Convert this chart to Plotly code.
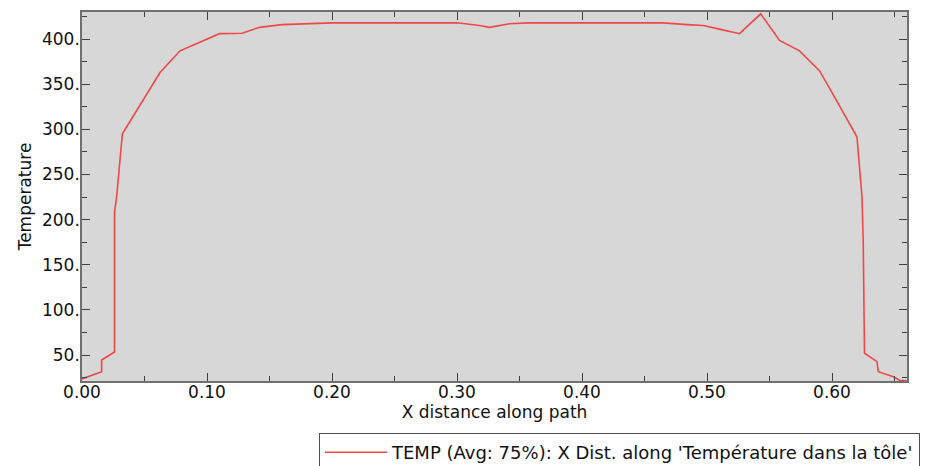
import plotly.graph_objects as go

# Data
x_dist = [0.000, 0.0157, 0.0157, 0.026, 0.026, 0.026, 0.0277, 0.0323, 0.0624, 0.0784,
          0.110, 0.128, 0.142, 0.160, 0.200, 0.250, 0.300, 0.318, 0.326, 0.342, 0.358,
          0.400, 0.465, 0.484, 0.497, 0.510, 0.526, 0.543, 0.558, 0.574, 0.590, 0.606,
          0.620, 0.624, 0.625, 0.626, 0.636, 0.637, 0.649, 0.654, 0.660]
temp = [23.5, 31.5, 44.5, 53.3, 63.0, 208.5, 225.0, 295.0, 363.0, 387.0,
        406.0, 406.5, 413.0, 416.0, 418.0, 418.0, 418.0, 415.0, 413.0, 417.0, 418.0,
        418.0, 418.0, 416.0, 415.0, 411.0, 406.0, 428.0, 398.5, 387.0, 365.0, 326.0,
        291.5, 225.0, 173.5, 52.0, 42.6, 31.5, 26.0, 22.0, 21.0]

legend_name = "TEMP (Avg: 75%): X Dist. along 'Température dans la tôle'"
x_title = "X distance along path"
y_title = "Temperature"

FONT = "DejaVu Sans, Verdana, sans-serif"
TXT = "#111111"

fig = go.Figure()
fig.add_trace(go.Scatter(x=x_dist, y=temp, mode="lines", name=legend_name,
                         line=dict(color="#f04848", width=1.6)))

axis_common = dict(
    showgrid=False, zeroline=False, showline=True, linecolor="#707070", linewidth=1.5,
    mirror="ticks", ticks="inside", ticklen=8, tickcolor="#404040", tickwidth=1.2,
    tickfont=dict(family=FONT, size=17, color=TXT), automargin=False,
)

fig.update_xaxes(
    range=[0, 0.66], tickmode="linear", tick0=0, dtick=0.1, tickformat=".2f",
    minor=dict(dtick=0.05, ticklen=5, tickcolor="#404040", ticks="inside"),
    ticklabelstandoff=-5,
    title=dict(text=x_title, font=dict(family=FONT, size=17, color=TXT), standoff=2),
    **axis_common,
)
fig.update_yaxes(
    range=[21.2, 430], tickmode="linear", tick0=50, dtick=50, tickformat="d", ticksuffix=".",
    minor=dict(dtick=25, tick0=50, ticklen=5, tickcolor="#404040", ticks="inside"),
    ticklabelstandoff=-3,
    title=dict(text=y_title, font=dict(family=FONT, size=17, color=TXT), standoff=6),
    **axis_common,
)

fig.update_layout(
    width=925, height=466,
    margin=dict(l=82, r=18, t=12, b=85, autoexpand=False),
    plot_bgcolor="#d7d7d7", paper_bgcolor="white",
    font=dict(family=FONT, size=17, color=TXT),
    showlegend=True,
    legend=dict(x=(319 - 82) / 825, y=-(433 - 381) / 369, xanchor="left", yanchor="top",
                bordercolor="#505050", borderwidth=1, bgcolor="white",
                font=dict(family=FONT, size=18, color=TXT), itemwidth=62),
)

fig.write_html("out.html", config={"displayModeBar": False},
               post_script="document.body.style.margin='0';document.body.style.overflow='hidden';")
